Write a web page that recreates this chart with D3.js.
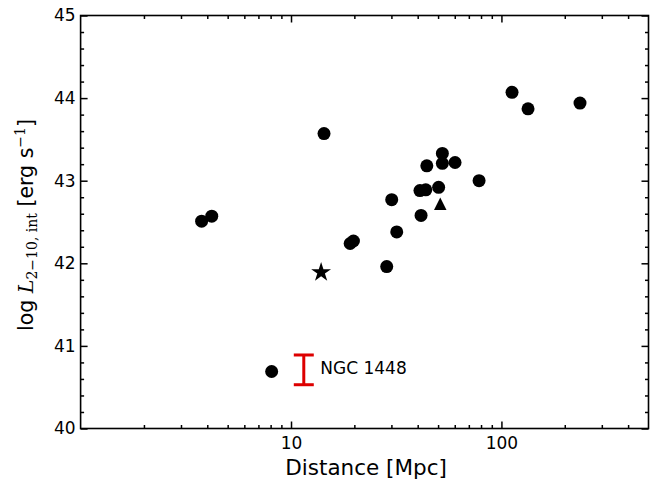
<!DOCTYPE html>
<html>
<head>
<meta charset="utf-8">
<script src="https://cdn.jsdelivr.net/npm/d3@7"></script>
<style>
  body { margin: 0; background: #fff; }
  text { font-family: "DejaVu Sans", sans-serif; fill: #000; }
</style>
</head>
<body>
<svg id="chart" width="671" height="483"></svg>
<script>
// distances [Mpc] and log L(2-10 keV, intrinsic) for the circle sample
const distances = [3.76, 4.20, 8.09, 14.35, 19.1, 19.8, 28.5, 30.1, 31.8, 41.0, 41.5,
                   43.7, 44.2, 50.3, 52.4, 52.4, 60.2, 78.3, 112.3, 133.8, 236.3];
const logLum = [42.51, 42.57, 40.69, 43.57, 42.24, 42.27, 41.96, 42.77, 42.38, 42.88, 42.58,
                42.89, 43.18, 42.92, 43.33, 43.21, 43.22, 43.00, 44.07, 43.87, 43.94];

// special sources
const starDist = [13.9];
const starLum = [41.89];
const triDist = [51.2];
const triLum = [42.72];

// NGC 1448 range
const ngcName = "NGC 1448";
const ngcDist = 11.5;
const ngcRange = [40.53, 40.89];

const xMajor = [10, 100];
const xMinor = [2, 3, 4, 5, 6, 7, 8, 9, 20, 30, 40, 50, 60, 70, 80, 90, 200, 300, 400];
const yMajor = [40, 41, 42, 43, 44, 45];
const yMinor = d3.range(40, 45.01, 0.2).filter(v => Math.abs(v - Math.round(v)) > 0.01);

const margin = {top: 15.5, right: 22.5, bottom: 54.5, left: 80.6};
const width = 671 - margin.left - margin.right;
const height = 483 - margin.top - margin.bottom;

const svg = d3.select("#chart");
const g = svg.append("g").attr("transform", `translate(${margin.left},${margin.top})`);

const x = d3.scaleLog().domain([1, 500]).range([0, width]);
const y = d3.scaleLinear().domain([40, 45]).range([height, 0]);

// axes with inward ticks on all four sides
function styleAxis(sel) {
    sel.select(".domain").remove();
    sel.selectAll(".tick line").attr("stroke", "#000").attr("stroke-width", 1.5);
    sel.selectAll(".tick text").style("font-size", "17px").style("font-family", "DejaVu Sans");
}

g.append("g").attr("transform", `translate(0,${height})`)
    .call(d3.axisBottom(x).tickValues(xMajor).tickFormat(d3.format("d")).tickSizeInner(-7).tickSizeOuter(0).tickPadding(8.4))
    .call(styleAxis);
g.append("g").attr("transform", `translate(0,${height})`)
    .call(d3.axisBottom(x).tickValues(xMinor).tickFormat("").tickSizeInner(-3.5).tickSizeOuter(0))
    .call(styleAxis);
g.append("g")
    .call(d3.axisTop(x).tickValues(xMajor).tickFormat("").tickSizeInner(-7).tickSizeOuter(0))
    .call(styleAxis);
g.append("g")
    .call(d3.axisTop(x).tickValues(xMinor).tickFormat("").tickSizeInner(-3.5).tickSizeOuter(0))
    .call(styleAxis);

g.append("g")
    .call(d3.axisLeft(y).tickValues(yMajor).tickFormat(d3.format("d")).tickSizeInner(-7).tickSizeOuter(0).tickPadding(5))
    .call(styleAxis);
g.append("g")
    .call(d3.axisLeft(y).tickValues(yMinor).tickFormat("").tickSizeInner(-3.5).tickSizeOuter(0))
    .call(styleAxis);
g.append("g").attr("transform", `translate(${width},0)`)
    .call(d3.axisRight(y).tickValues(yMajor).tickFormat("").tickSizeInner(-7).tickSizeOuter(0))
    .call(styleAxis);
g.append("g").attr("transform", `translate(${width},0)`)
    .call(d3.axisRight(y).tickValues(yMinor).tickFormat("").tickSizeInner(-3.5).tickSizeOuter(0))
    .call(styleAxis);

// frame
g.append("rect")
    .attr("width", width).attr("height", height)
    .attr("fill", "none").attr("stroke", "#000").attr("stroke-width", 1.6);

// points
g.selectAll(".dot")
    .data(distances.map((d, i) => ({x: d, y: logLum[i]})))
    .enter()
    .append("circle")
    .attr("class", "dot")
    .attr("cx", d => x(d.x))
    .attr("cy", d => y(d.y))
    .attr("r", 6.5)
    .attr("fill", "#000");

g.selectAll(".star")
    .data(starDist.map((d, i) => ({x: d, y: starLum[i]})))
    .enter()
    .append("path")
    .attr("class", "star")
    .attr("transform", d => `translate(${x(d.x)},${y(d.y)})`)
    .attr("d", d3.symbol().type(d3.symbolStar).size(122))
    .attr("fill", "#000");

// matplotlib style "^" marker (as wide as tall, centred on its box)
const triUp = {
    draw(ctx, size) {
        const s = Math.sqrt(size) / 2;
        ctx.moveTo(0, -s);
        ctx.lineTo(s, s);
        ctx.lineTo(-s, s);
        ctx.closePath();
    }
};
g.selectAll(".tri")
    .data(triDist.map((d, i) => ({x: d, y: triLum[i]})))
    .enter()
    .append("path")
    .attr("class", "tri")
    .attr("transform", d => `translate(${x(d.x)},${y(d.y)})`)
    .attr("d", d3.symbol().type(triUp).size(156))
    .attr("fill", "#000");

// NGC 1448 bar
const red = "#dd0000";
const bx = x(ngcDist);
const bar = g.append("g").attr("stroke", red).attr("stroke-width", 3);
bar.append("line").attr("x1", bx).attr("x2", bx).attr("y1", y(ngcRange[0])).attr("y2", y(ngcRange[1]));
ngcRange.forEach(v => {
    bar.append("line").attr("x1", bx - 10).attr("x2", bx + 10).attr("y1", y(v)).attr("y2", y(v));
});
g.append("text")
    .attr("x", bx + 16.5)
    .attr("y", y(d3.mean(ngcRange)))
    .attr("dy", "0.25em")
    .style("font-size", "17px")
    .text(ngcName);

// axis labels
svg.append("text")
    .attr("x", margin.left + width / 2 + 1.5)
    .attr("y", 475)
    .attr("text-anchor", "middle")
    .style("font-size", "21.5px")
    .text("Distance [Mpc]");

const yl = svg.append("text")
    .attr("transform", `translate(33,${margin.top + height / 2 + 3}) rotate(-90)`)
    .attr("text-anchor", "middle")
    .style("font-size", "20.5px");
yl.append("tspan").text("log ");
yl.append("tspan").style("font-family", "DejaVu Serif").style("font-style", "italic").text("L");
yl.append("tspan").style("font-family", "DejaVu Serif").style("font-size", "14px").attr("dy", 4).text("2\u221210, int");
yl.append("tspan").attr("dy", -4).text(" [erg s");
yl.append("tspan").style("font-family", "DejaVu Serif").style("font-size", "14px").attr("dy", -8).text("\u22121");
yl.append("tspan").attr("dy", 8).text("]");
</script>
</body>
</html>
